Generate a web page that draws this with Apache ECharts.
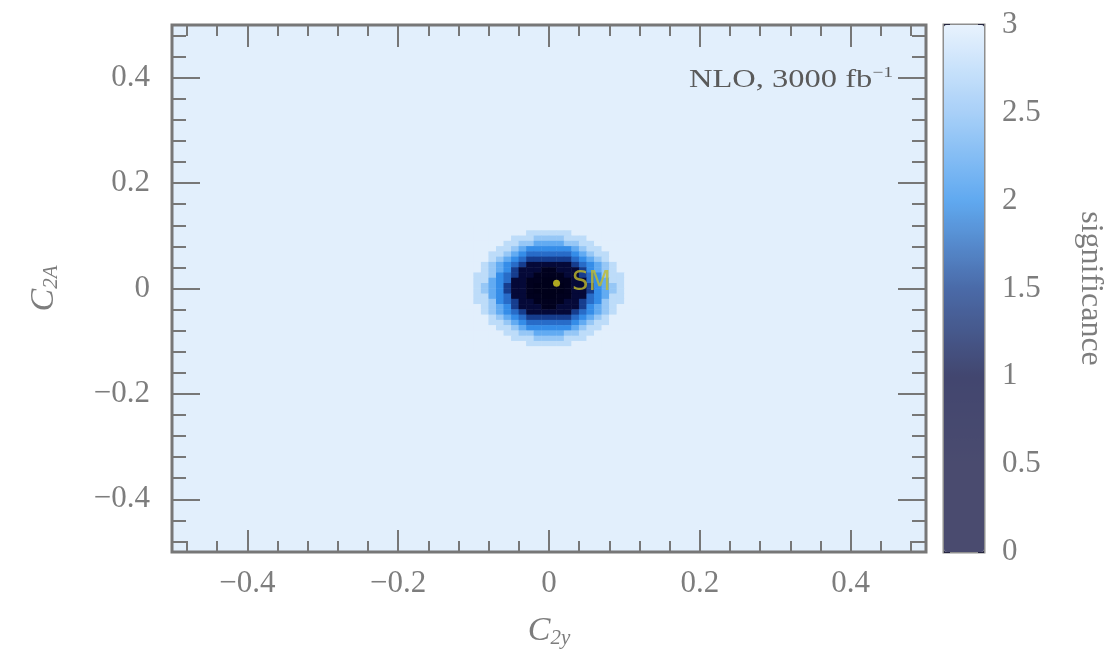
<!DOCTYPE html>
<html>
<head>
<meta charset="utf-8">
<script src="https://cdn.jsdelivr.net/npm/echarts@6/dist/echarts.min.js"></script>
<style>
  html, body { margin: 0; padding: 0; background: #fff; }
  #chart { width: 1112px; height: 656px; }
</style>
</head>
<body>
<div id="chart"></div>
<script>
// significance levels, indexed by the digits used in BLOB_ROWS
const LEVELS = [0, 0.4, 0.85, 1.35, 1.7, 1.95, 2.2, 2.45, 2.72, 3]

// 0.01 cells, C2A from 0.115 (top) down to -0.115,
// C2y from -0.115 to 0.115; everything outside is saturated (3)
const BLOB_ROWS = [
    '999999999999999999999999',
    '999999999888888999999999',
    '999999988877778889999999',
    '999999887766667788999999',
    '999998876555555678899999',
    '999988765444444567889999',
    '999987654333333456789999',
    '999876543222222345678999',
    '999876532221122235678999',
    '998875432211112234578899',
    '998865422110011224568899',
    '998765322100001223567899',
    '998765322100001223567899',
    '998865422110011224568899',
    '998875432211112234578899',
    '999876532221122235678999',
    '999876543222222345678999',
    '999987654333333456789999',
    '999988765444444567889999',
    '999998876555555678899999',
    '999999887766667788999999',
    '999999988877778889999999',
    '999999999888888999999999',
    '999999999999999999999999',
]
const BLOB_X0 = -0.115 // first column centre
const BLOB_Y0 = 0.115 // first row centre

const SM_POINT = [0.01, 0.01]
const MAJOR_TICKS = [-0.4, -0.2, 0, 0.2, 0.4]
const MINOR_TICKS = [-0.48, -0.44, -0.36, -0.32, -0.28, -0.24, -0.16, -0.12, -0.08, -0.04,
    0.04, 0.08, 0.12, 0.16, 0.24, 0.28, 0.32, 0.36, 0.44, 0.48]

const SERIF = 'Liberation Serif'
const GREY = '#7d7d7d'
const FRAME = '#777'

/* category bands of 0.01 across [-0.5, 0.5] for the heatmap */
const cats = []
for (let k = 0; k < 100; k++) cats.push((-0.495 + k * 0.01).toFixed(3))

const heatData = []
BLOB_ROWS.forEach((row, r) => {
    const yk = Math.round((BLOB_Y0 - r * 0.01 + 0.495) / 0.01)
    row.split('').forEach((ch, c) => {
        const xk = Math.round((BLOB_X0 + c * 0.01 + 0.495) / 0.01)
        heatData.push([xk, yk, LEVELS[+ch]])
    })
})

const fmt = (v) => (v < 0 ? '\u2212' + Math.abs(v) : String(v))

/* tick-only value axis on the main frame */
function tickAxis(position, values, len, extra) {
    return Object.assign({
        type: 'value', gridIndex: 0, position: position, min: -0.5, max: 0.5,
        axisLine: { show: false, onZero: false },
        axisTick: { show: true, inside: true, length: len, customValues: values,
            lineStyle: { color: FRAME, width: 2 } },
        axisLabel: { show: false },
        splitLine: { show: false },
    }, extra || {})
}

const labelStyle = {
    show: true, customValues: MAJOR_TICKS, formatter: fmt,
    fontFamily: SERIF, fontSize: 31, color: GREY,
}
const nameRich = {
    i: { fontFamily: SERIF, fontStyle: 'italic', fontSize: 34, color: GREY },
    s: { fontFamily: SERIF, fontStyle: 'italic', fontSize: 21, color: GREY, padding: [14, 0, 0, 0] },
}

const myChart = echarts.init(document.getElementById('chart'))

myChart.setOption({
    animation: false,
    grid: [
        { left: 172, top: 25, width: 754, height: 527, show: true,
            backgroundColor: '#e2effc', borderColor: FRAME, borderWidth: 3 },
        { left: 944, top: 25, width: 40, height: 527, show: true,
            backgroundColor: 'transparent', borderColor: '#8e8e8e', borderWidth: 3 },
    ],
    xAxis: [
        { type: 'category', gridIndex: 0, data: cats, show: false },
        tickAxis('bottom', MAJOR_TICKS, 22, {
            axisLabel: Object.assign({ margin: 16 }, labelStyle),
            name: '{i|C}{s|2y}', nameLocation: 'middle', nameGap: 62,
            nameTextStyle: { rich: nameRich },
        }),
        tickAxis('bottom', MINOR_TICKS, 11),
        tickAxis('top', MAJOR_TICKS, 22),
        tickAxis('top', MINOR_TICKS, 11),
        { type: 'value', gridIndex: 1, show: false, min: 0, max: 1 },
    ],
    yAxis: [
        { type: 'category', gridIndex: 0, data: cats, show: false },
        tickAxis('left', MAJOR_TICKS, 28, {
            axisLabel: Object.assign({ margin: 22 }, labelStyle),
            name: '{i|C}{s|2A}', nameLocation: 'middle', nameGap: 110, nameRotate: 90,
            nameTextStyle: { rich: nameRich },
        }),
        tickAxis('left', MINOR_TICKS, 14),
        tickAxis('right', MAJOR_TICKS, 28),
        tickAxis('right', MINOR_TICKS, 14),
        {
            type: 'value', gridIndex: 1, position: 'right', min: 0, max: 3, interval: 0.5,
            axisLine: { show: false, onZero: false },
            axisTick: { show: true, inside: true, length: 6, lineStyle: { color: '#262640', width: 2 } },
            axisLabel: { margin: 18, fontFamily: SERIF, fontSize: 31, color: GREY },
            splitLine: { show: false },
            name: 'significance', nameLocation: 'middle', nameGap: 90, nameRotate: -90,
            nameTextStyle: { fontFamily: SERIF, fontSize: 32, color: GREY },
        },
        {
            type: 'value', gridIndex: 1, position: 'left', min: 0, max: 3, interval: 0.5,
            axisLine: { show: false, onZero: false },
            axisTick: { show: true, inside: true, length: 6, lineStyle: { color: '#262640', width: 2 } },
            axisLabel: { show: false },
            splitLine: { show: false },
        },
    ],
    visualMap: [
        {
            // colours of the map itself
            show: false, seriesIndex: 0, min: 0, max: 3, dimension: 2,
            inRange: { color: ['#00001a', '#01011f', '#060c42', '#1d52ae', '#3894ee', '#a0cdf7', '#e2effc'] },
        },
        {
            // the colour bar on the right (drawn paler, as in the figure)
            type: 'continuous', seriesIndex: 2, min: 0, max: 3,
            left: 944, top: 25, itemWidth: 40, itemHeight: 527, padding: 0,
            calculable: false, hoverLink: false, text: null,
            inRange: { color: ['#4a4b6f', '#4a4b6f', '#42466f', '#4a6aa8', '#60a9f0', '#a8d0f8', '#e8f2fd'] },
        },
    ],
    graphic: [
        {
            type: 'text', x: 893, y: 80, scaleX: 1.3, z: 10,
            style: {
                text: '{a|NLO, 3000 fb}{b|\u22121}', align: 'right', verticalAlign: 'middle',
                rich: {
                    a: { fontFamily: SERIF, fontSize: 25, fill: '#5a5a5a' },
                    b: { fontFamily: SERIF, fontSize: 15, fill: '#5a5a5a', padding: [0, 0, 13, 0] },
                },
            },
        },
    ],
    series: [
        {
            type: 'heatmap', xAxisIndex: 0, yAxisIndex: 0, data: heatData,
            emphasis: { disabled: true }, progressive: 0,
        },
        {
            type: 'scatter', xAxisIndex: 1, yAxisIndex: 1, data: [SM_POINT],
            symbolSize: 7, itemStyle: { color: '#d8cf22' }, silent: true,
            label: { show: true, position: 'right', distance: 12, formatter: 'SM',
                fontFamily: 'DejaVu Sans', fontSize: 26, color: '#c2bb2a' },
        },
        { type: 'scatter', xAxisIndex: 5, yAxisIndex: 5, data: [] },
    ],
})
</script>
</body>
</html>
